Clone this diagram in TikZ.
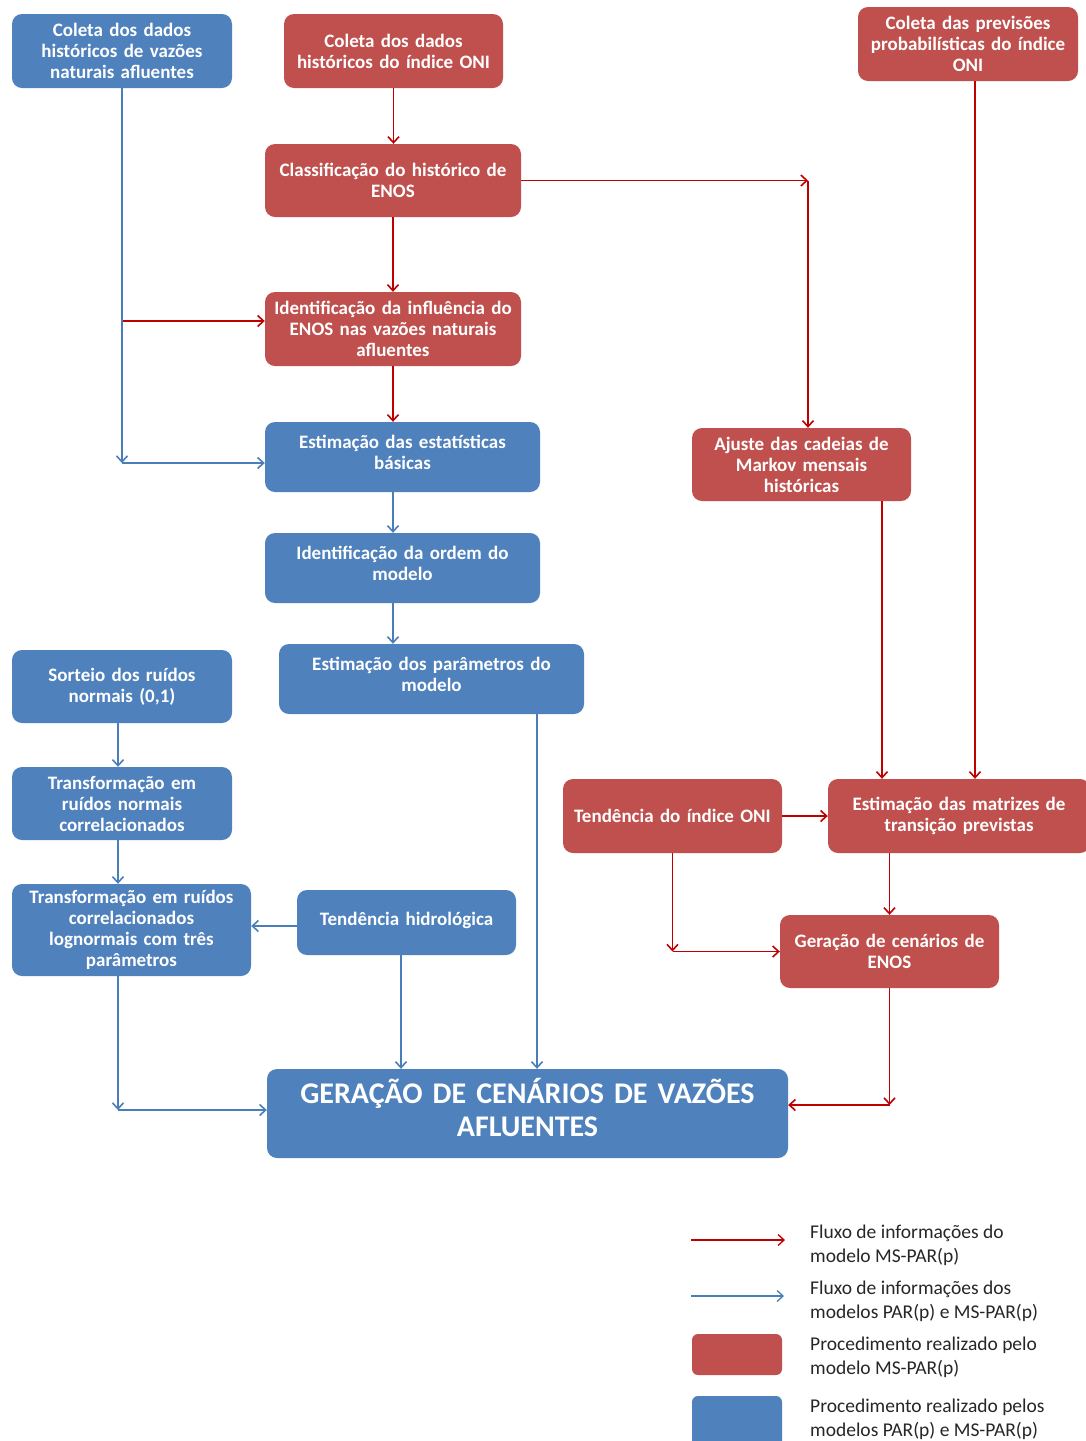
\documentclass[tikz,border=0pt]{standalone}
\usepackage{fontspec}
\setmainfont{Carlito}
\usetikzlibrary{arrows.meta,calc}
\definecolor{redfill}{HTML}{C0504D}
\definecolor{bluefill}{HTML}{4F81BD}
\definecolor{redline}{HTML}{C00000}
\definecolor{blueline}{HTML}{4A7EBB}
\definecolor{legtext}{HTML}{262626}
\tikzset{
  box/.style={rounded corners=10pt, text=white, align=center, inner xsep=0pt, inner ysep=2pt,
    font=\fontsize{19}{21}\selectfont\bfseries},
  redbox/.style={box, fill=redfill},
  bluebox/.style={box, fill=bluefill},
  redarr/.style={draw=redline, line width=1.6pt, -{Straight Barb[length=6pt,width=11pt]}},
  bluearr/.style={draw=blueline, line width=1.6pt, -{Straight Barb[length=6pt,width=11pt]}},
  legend/.style={anchor=north west, align=left, text=legtext, inner sep=0pt,
    font=\fontsize{19.5}{24}\selectfont},
}
\newcommand{\boxnode}[7]{%
  \node[#1, minimum width=#4pt, minimum height=#5pt, text width=#4pt] (#6) at (#2,#3) {#7};}
\begin{document}
\begin{tikzpicture}[x=1pt,y=-1pt]
\useasboundingbox (0,0) rectangle (1086,1441);

% process boxes
\boxnode{bluebox}{122}{51}{220}{74}{B1}{Coleta dos dados\\históricos de vazões\\naturais afluentes}
\boxnode{redbox}{393.5}{51}{219}{74}{R1}{Coleta dos dados\\históricos do índice ONI}
\boxnode{redbox}{968}{44}{220}{74}{R2}{Coleta das previsões\\probabilísticas do índice\\ONI}
\boxnode{redbox}{393}{180.5}{256}{73}{R3}{Classificação do histórico de\\ENOS}
\boxnode{redbox}{393}{329}{256}{74}{R4}{Identificação da influência do\\ENOS nas vazões naturais\\afluentes}
\boxnode{bluebox}{402.5}{457}{275}{70}{B2}{Estimação das estatísticas\\básicas\\[-12pt]\mbox{}}
\boxnode{redbox}{801.5}{464.5}{219}{73}{R5}{Ajuste das cadeias de\\Markov mensais\\históricas}
\boxnode{bluebox}{402.5}{568}{275}{70}{B3}{Identificação da ordem do\\modelo\\[-12pt]\mbox{}}
\boxnode{bluebox}{431.5}{679}{305}{70}{B4}{Estimação dos parâmetros do\\modelo\\[-12pt]\mbox{}}
\boxnode{bluebox}{122}{686.5}{220}{73}{B5}{Sorteio dos ruídos\\normais (0,1)}
\boxnode{bluebox}{122}{803.5}{220}{73}{B6}{Transformação em\\ruídos normais\\correlacionados}
\boxnode{bluebox}{131.5}{930}{239}{92}{B7}{Transformação em ruídos\\correlacionados\\lognormais com três\\parâmetros}
\boxnode{bluebox}{406.5}{922.5}{219}{65}{B8}{Tendência hidrológica\\[-14pt]\mbox{}}
\boxnode{redbox}{672.5}{816}{219}{74}{R6}{Tendência do índice ONI}
\boxnode{redbox}{959}{816}{262}{74}{R7}{Estimação das matrizes de\\transição previstas}
\boxnode{redbox}{889.5}{951.5}{219}{73}{R8}{Geração de cenários de\\ENOS}
\node[bluebox, minimum width=521pt, minimum height=89pt, text width=521pt,
  font=\fontsize{30}{33}\selectfont\bfseries] (B9) at (527.5,1113.5)
  {GERAÇÃO DE CENÁRIOS DE VAZÕES\\AFLUENTES\\[-21pt]\mbox{}};

% red information flow
\draw[redarr] (R1.south) -- (R1.south |- R3.north);
\draw[redarr] (R3.south) -- (R4.north);
\draw[redarr] (R4.south) -- (R4.south |- B2.north);
\coordinate (kB1R4) at (B1.south |- R4.west);
\draw[redarr] ([yshift=8pt]kB1R4) -- ([yshift=8pt]R4.west);
\coordinate (r5in) at ([xshift=6.5pt]R5.north);
\coordinate (kR3R5) at (r5in |- R3.east);
\draw[redarr] (R3.east) -- (kR3R5);
\draw[redarr] (kR3R5) -- (r5in);
\coordinate (r2out) at ([xshift=7pt]R2.south);
\draw[redarr] (r2out) -- (r2out |- R7.north);
\coordinate (r5out) at ([xshift=80.5pt]R5.south);
\draw[redarr] (r5out) -- (r5out |- R7.north);
\draw[redarr] (R6.east) -- (R7.west);
\draw[redarr] (R8.north |- R7.south) -- (R8.north);
\coordinate (kR6R8) at (R6.south |- R8.west);
\draw[redarr] (R6.south) -- (kR6R8);
\draw[redarr] (kR6R8) -- (R8.west);
\coordinate (b9in) at ([yshift=8.5pt]B9.east);
\coordinate (kR8B9) at (R8.south |- b9in);
\draw[redarr] (R8.south) -- (kR8B9);
\draw[redarr] (kR8B9) -- (b9in);

% blue information flow
\coordinate (kB1B2) at ([yshift=-6pt]B1.south |- B2.west);
\draw[bluearr] (B1.south) -- (kB1B2);
\draw[bluearr] (kB1B2) -- ([yshift=-6pt]B2.west);
\coordinate (b2out) at ([xshift=-9.5pt]B2.south);
\draw[bluearr] (b2out) -- (b2out |- B3.north);
\coordinate (b3out) at ([xshift=-9.5pt]B3.south);
\draw[bluearr] (b3out) -- (b3out |- B4.north);
\coordinate (b4out) at ([xshift=105.5pt]B4.south);
\draw[bluearr] (b4out) -- (b4out |- B9.north);
\coordinate (b5out) at ([xshift=-4pt]B5.south);
\draw[bluearr] (b5out) -- (b5out |- B6.north);
\coordinate (b6out) at ([xshift=-4pt]B6.south);
\draw[bluearr] (b6out) -- (b6out |- B7.north);
\draw[bluearr] ([yshift=-3.5pt]B8.west) -- ([yshift=-3.5pt]B8.west -| B7.east);
\coordinate (b8out) at ([xshift=-5.5pt]B8.south);
\draw[bluearr] (b8out) -- (b8out |- B9.north);
\coordinate (b7out) at ([xshift=-13.5pt]B7.south);
\coordinate (b9w) at ([yshift=3.5pt]B9.west);
\coordinate (kB7B9) at (b7out |- b9w);
\draw[bluearr] (b7out) -- (kB7B9);
\draw[bluearr] (kB7B9) -- (b9w);

% legend
\coordinate (lr0) at (691,1240);
\coordinate (lr1) at (785,1240);
\draw[redarr, line width=1.3pt] (lr0) -- (lr1);
\coordinate (lb0) at (691,1296);
\coordinate (lb1) at (784,1296);
\draw[bluearr, line width=1.3pt] (lb0) -- (lb1);
\fill[redfill, rounded corners=6pt] (692,1334) rectangle (782,1375);
\fill[bluefill, rounded corners=6pt] (692,1396) rectangle (782,1450);
\node[legend] (L1) at (810,1225) {Fluxo de informações do\\modelo MS-PAR(p)};
\node[legend] (L2) at (810,1281) {Fluxo de informações dos\\modelos PAR(p) e MS-PAR(p)};
\node[legend] (L3) at (810,1337) {Procedimento realizado pelo\\modelo MS-PAR(p)};
\node[legend] (L4) at (810,1399) {Procedimento realizado pelos\\modelos PAR(p) e MS-PAR(p)};
\end{tikzpicture}
\end{document}
